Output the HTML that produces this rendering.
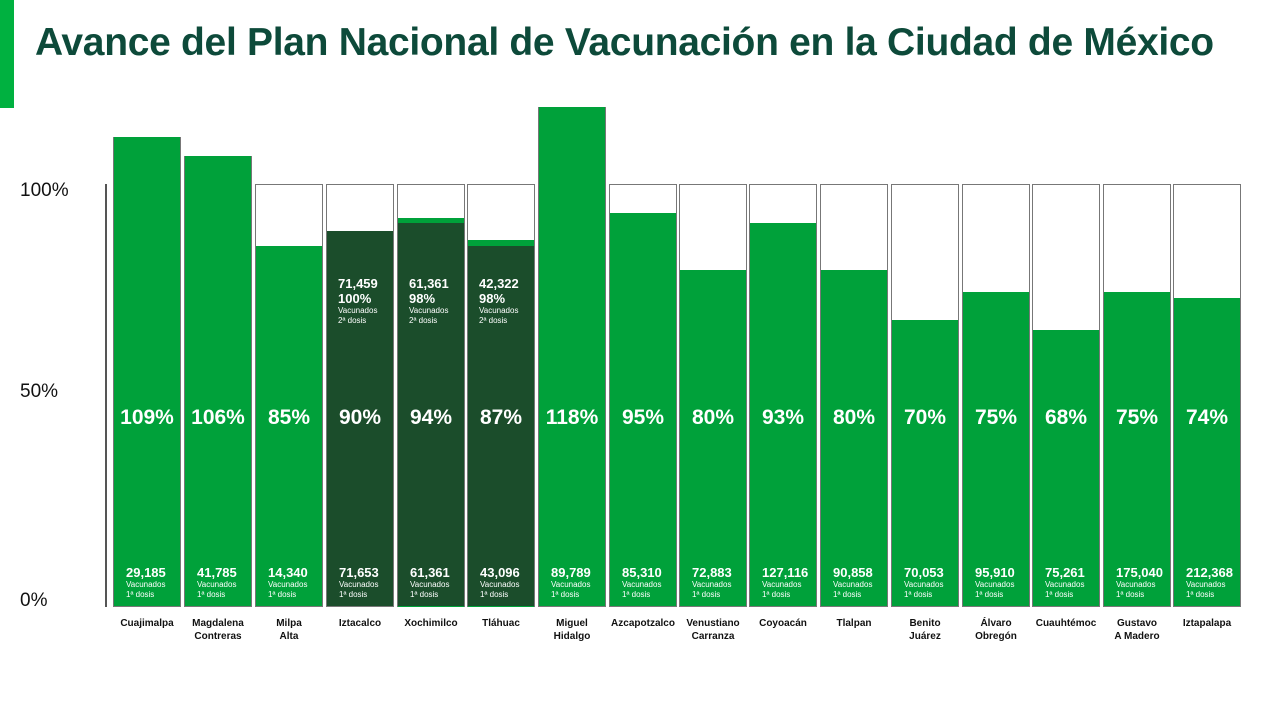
<!DOCTYPE html><html><head><meta charset="utf-8"><style>
body{margin:0;width:1280px;height:717px;background:#fff;position:relative;overflow:hidden;font-family:"Liberation Sans",sans-serif}
.a{position:absolute}
.box{position:absolute;border:1.5px solid #777;box-sizing:border-box;background:#fff}
.g{position:absolute;background:#00a13a}
.pct{position:absolute;width:68px;text-align:center;color:#fff;font-weight:bold;font-size:21px;top:406px}
.bt{position:absolute;color:#fff;font-size:8px;line-height:10px}
.bt b{font-size:13px;display:block;line-height:15px}
.lab{position:absolute;width:80px;text-align:center;font-size:10px;font-weight:bold;color:#111;line-height:13px;top:617px}
.yl{position:absolute;left:20px;font-size:19px;color:#111}
</style></head><body>
<div class="a" style="left:0;top:0;width:14px;height:108px;background:#00b140"></div>
<div class="a" style="left:35px;top:21px;font-size:39px;font-weight:bold;color:#0d4a3a;letter-spacing:-0.3px">Avance del Plan Nacional de Vacunación en la Ciudad de México</div>
<div class="yl" style="top:180px">100%</div>
<div class="yl" style="top:381px">50%</div>
<div class="yl" style="top:590px">0%</div>
<div class="a" style="left:105px;top:184px;width:1.5px;height:423px;background:#555"></div>
<div id="c"></div>
<script>
var d=[["Cuajimalpa",113,137,0,"109%","29,185"],["Magdalena<br>Contreras",184,156,0,"106%","41,785"],["Milpa<br>Alta",255,246,0,"85%","14,340"],
["Iztacalco",326,231,1,"90%","71,653",0,"71,459","100%"],["Xochimilco",397,223,1,"94%","61,361",218,"61,361","98%"],["Tláhuac",467,246,1,"87%","43,096",240,"42,322","98%"],
["Miguel<br>Hidalgo",538,107,0,"118%","89,789"],["Azcapotzalco",609,213,0,"95%","85,310"],["Venustiano<br>Carranza",679,270,0,"80%","72,883"],["Coyoacán",749,223,0,"93%","127,116"],
["Tlalpan",820,270,0,"80%","90,858"],["Benito<br>Juárez",891,320,0,"70%","70,053"],["Álvaro<br>Obregón",962,292,0,"75%","95,910"],["Cuauhtémoc",1032,330,0,"68%","75,261"],
["Gustavo<br>A Madero",1103,292,0,"75%","175,040"],["Iztapalapa",1173,298,0,"74%","212,368"]];
var h="";d.forEach(function(r){var x=r[1],w=68,t=Math.min(r[2],184);
h+='<div class="box" style="left:'+x+'px;top:'+t+'px;width:'+w+'px;height:'+(607-t)+'px"></div>';
if(r[6])h+='<div class="g" style="left:'+(x+1)+'px;top:'+r[6]+'px;width:'+(w-2)+'px;height:'+(607-r[6])+'px"></div>';
h+='<div class="g" style="left:'+(x+1)+'px;top:'+r[2]+'px;width:'+(w-2)+'px;height:'+(606-r[2])+'px;background:'+(r[3]?'#1b4d2b':'#00a13a')+'"></div>';
h+='<div class="pct" style="left:'+x+'px">'+r[4]+'</div>';
h+='<div class="bt" style="left:'+(x+13)+'px;top:565px"><b>'+r[5]+'</b>Vacunados<br>1ª dosis</div>';
if(r[3])h+='<div class="bt" style="left:'+(x+12)+'px;top:276px"><b>'+r[7]+'</b><b>'+r[8]+'</b>Vacunados<br>2ª dosis</div>';
h+='<div class="lab" style="left:'+(x-6)+'px">'+r[0]+'</div>';});
document.getElementById("c").innerHTML=h;
</script>
</body></html>
